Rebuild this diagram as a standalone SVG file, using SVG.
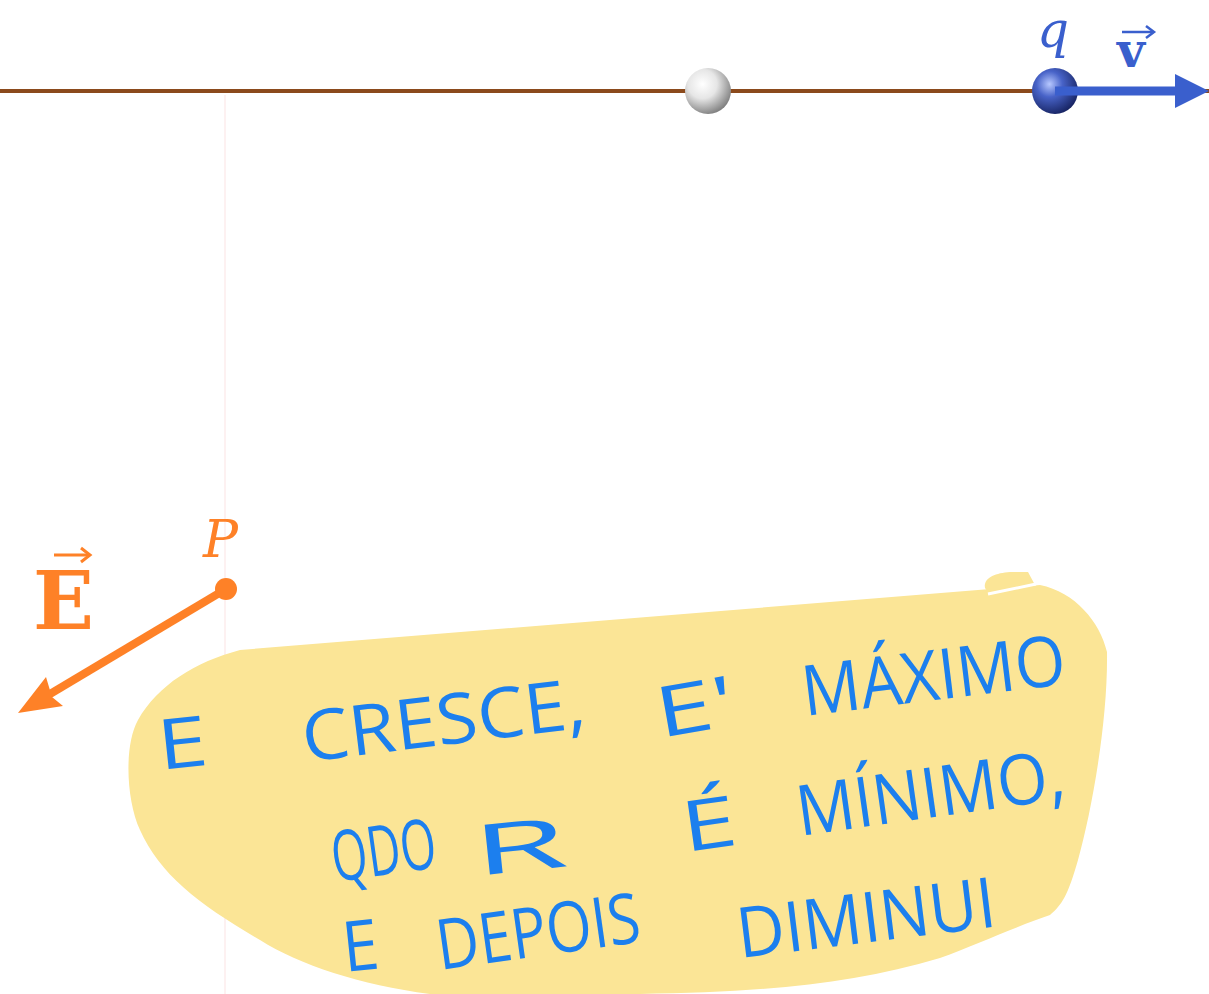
<svg xmlns="http://www.w3.org/2000/svg" width="1209" height="994" viewBox="0 0 1209 994">
<defs>
<radialGradient id="gWhite" cx="0.38" cy="0.35" r="0.7">
<stop offset="0" stop-color="#ffffff"/>
<stop offset="0.45" stop-color="#e6e6e6"/>
<stop offset="1" stop-color="#7a7a7a"/>
</radialGradient>
<radialGradient id="gBlue" cx="0.38" cy="0.35" r="0.7">
<stop offset="0" stop-color="#b7c8ff"/>
<stop offset="0.4" stop-color="#4863c8"/>
<stop offset="1" stop-color="#15215e"/>
</radialGradient>
<style>
.hw{font-family:"Open Sans","DejaVu Sans","Liberation Sans",sans-serif;font-weight:400;fill:#1c7fee;font-size:70px}
.lbl{font-family:"DejaVu Serif","Liberation Serif",serif}
</style>
</defs>
<rect width="1209" height="994" fill="#ffffff"/>
<line x1="225" y1="95" x2="225" y2="994" stroke="#fdf1f1" stroke-width="2"/>
<g id="blob">
<path d="M240,650 L1040,585 C1075,592 1100,622 1107,652 C1108,720 1092,810 1078,860 C1068,895 1062,905 1050,915 C1020,925 975,945 940,958 C850,985 760,992 640,994 L430,994 C360,985 300,965 260,940 C200,905 160,875 140,830 C126,800 124,745 138,720 C158,685 195,662 240,650 Z" fill="#fbe596"/>
<path d="M985,588 C983,578 995,573 1010,572 L1028,572 L1035,585 L990,595 Z" fill="#fbe596"/>
<line x1="988" y1="594" x2="1036" y2="584" stroke="#ffffff" stroke-width="3"/>
</g>
<g id="axis">
<line x1="0" y1="91" x2="1209" y2="91" stroke="#8b4a1c" stroke-width="4"/>
</g>
<g id="sphere-neutral">
<circle cx="708" cy="91" r="23" fill="url(#gWhite)"/>
</g>
<g id="charge-q">
<circle cx="1055" cy="91" r="23" fill="url(#gBlue)"/>
<text class="lbl" x="1037" y="47" font-size="50" font-style="italic" fill="#3a5fcd">q</text>
</g>
<g id="connectors">
<g id="vector-v">
<line x1="1055" y1="91" x2="1180" y2="91" stroke="#3a5fcd" stroke-width="9"/>
<polygon points="1175,74 1209,91 1175,108" fill="#3a5fcd"/>
</g>
<g id="vector-E">
<line x1="226" y1="589" x2="45" y2="697" stroke="#fe8127" stroke-width="8"/>
<path d="M18,713 L46,677 L52,697 L63,706 Z" fill="#fe8127"/>
</g>
</g>
<g id="label-v">
<text class="lbl" x="1117" y="67" font-size="48" font-weight="bold" fill="#3a5fcd">v</text>
<line x1="1122" y1="32" x2="1152" y2="32" stroke="#3a5fcd" stroke-width="2.5"/>
<path d="M1146,26 L1154,32 L1146,38" fill="none" stroke="#3a5fcd" stroke-width="2.5"/>
</g>
<g id="point-P">
<circle cx="226" cy="589" r="11" fill="#fe8127"/>
<text class="lbl" x="203" y="557" font-size="52" font-style="italic" fill="#fe8127">P</text>
</g>
<g id="label-E">
<text class="lbl" x="33" y="629" font-size="80" font-weight="bold" fill="#fe8127">E</text>
<line x1="54" y1="555" x2="88" y2="555" stroke="#fe8127" stroke-width="3"/>
<path d="M81,548 L90,555 L81,562" fill="none" stroke="#fe8127" stroke-width="3"/>
</g>
<g id="handwriting">
<text class="hw" x="160" y="770" textLength="50" lengthAdjust="spacingAndGlyphs" font-size="84" transform="rotate(-6 160 770)">E</text>
<text class="hw" x="305" y="762" textLength="285" lengthAdjust="spacingAndGlyphs" transform="rotate(-7 305 762)">CRESCE,</text>
<text class="hw" x="660" y="738" textLength="80" lengthAdjust="spacingAndGlyphs" font-size="90" transform="rotate(-10 660 738)">E'</text>
<text class="hw" x="805" y="716" textLength="265" lengthAdjust="spacingAndGlyphs" font-size="76" transform="rotate(-7 805 716)">MÁXIMO</text>
<text class="hw" x="335" y="882" textLength="105" lengthAdjust="spacingAndGlyphs" font-size="64" transform="rotate(-8 335 882)">QDO</text>
<text class="hw" x="475" y="876" textLength="95" lengthAdjust="spacingAndGlyphs" font-size="84" transform="rotate(-6 475 876)">R</text>
<text class="hw" x="685" y="852" textLength="55" lengthAdjust="spacingAndGlyphs" font-size="76" transform="rotate(-8 685 852)">É</text>
<text class="hw" x="800" y="836" textLength="270" lengthAdjust="spacingAndGlyphs" font-size="76" transform="rotate(-8 800 836)">MÍNIMO,</text>
<text class="hw" x="345" y="972" textLength="36" lengthAdjust="spacingAndGlyphs" font-size="56" transform="rotate(-6 345 972)">E</text>
<text class="hw" x="440" y="970" textLength="205" lengthAdjust="spacingAndGlyphs" font-size="74" transform="rotate(-8 440 970)">DEPOIS</text>
<text class="hw" x="740" y="958" textLength="260" lengthAdjust="spacingAndGlyphs" font-size="78" transform="rotate(-7 740 958)">DIMINUI</text>
</g>
</svg>
